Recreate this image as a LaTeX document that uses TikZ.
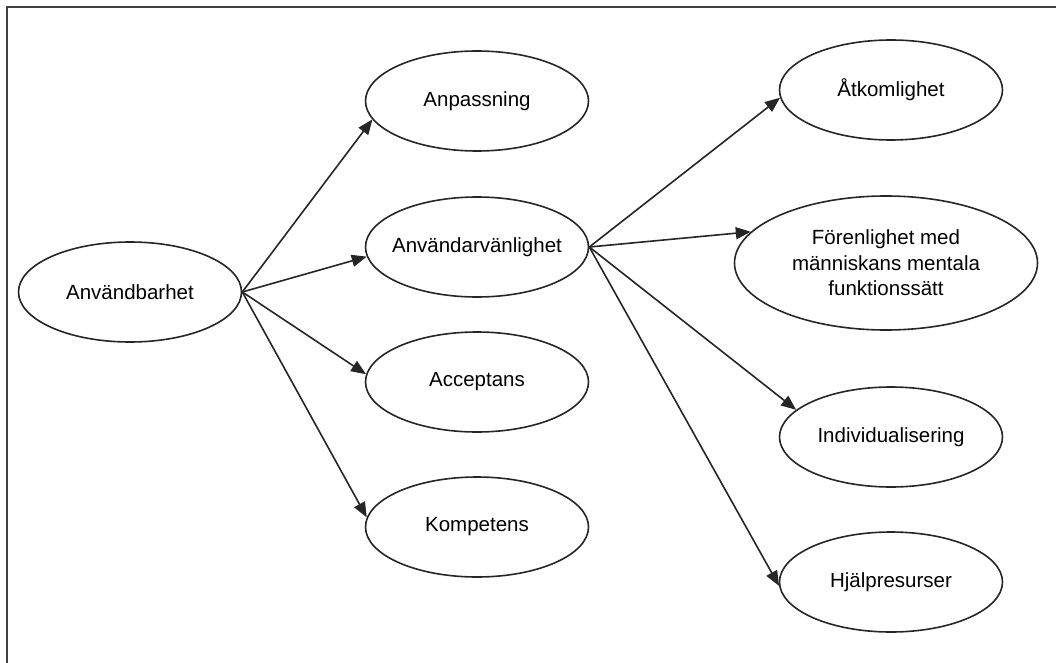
\documentclass[tikz,border=0pt]{standalone}
\usepackage{fontspec}
\setmainfont{Liberation Sans}
\usetikzlibrary{shapes.geometric,arrows.meta}
\tikzset{
  oval/.style={ellipse, draw=black!85, line width=1.6pt, inner xsep=-20pt, inner ysep=0pt,
    minimum width=223pt, minimum height=100pt, align=center,
    font=\fontsize{20.5}{25.5}\selectfont},
  conn/.style={draw=black!85, line width=1.6pt, -{Triangle[length=15pt,width=12pt]}},
}
\begin{document}
\begin{tikzpicture}[x=1pt,y=-1pt]
\useasboundingbox (0,0) rectangle (1056,663);
\draw[line width=2pt, color=black!75] (7,663) -- (7,7) -- (1056,7);
\node[oval] (anv) at (130,292) {Användbarhet};
\node[oval] (anp) at (477,101) {Anpassning};
\node[oval] (avl) at (477,247) {Användarvänlighet};
\node[oval] (acc) at (477,382) {Acceptans};
\node[oval] (kom) at (477,527) {Kompetens};
\node[oval] (atk) at (891,90) {Åtkomlighet};
\node[oval, minimum width=303pt, minimum height=134pt] (for) at (886,263) {Förenlighet med\\människans mentala\\funktionssätt};
\node[oval] (ind) at (891,437) {Individualisering};
\node[oval] (hja) at (891,582) {Hjälpresurser};
\draw[conn] (anv.east) -- (anp.190);
\draw[conn] (anv.east) -- (avl.185);
\draw[conn] (anv.east) -- (acc.176);
\draw[conn] (anv.east) -- (kom.175);
\draw[conn] (avl.east) -- (atk.184);
\draw[conn] (avl.east) -- (for.167);
\draw[conn] (avl.east) -- (ind.164);
\draw[conn] (avl.east) -- (hja.182);
\end{tikzpicture}
\end{document}
